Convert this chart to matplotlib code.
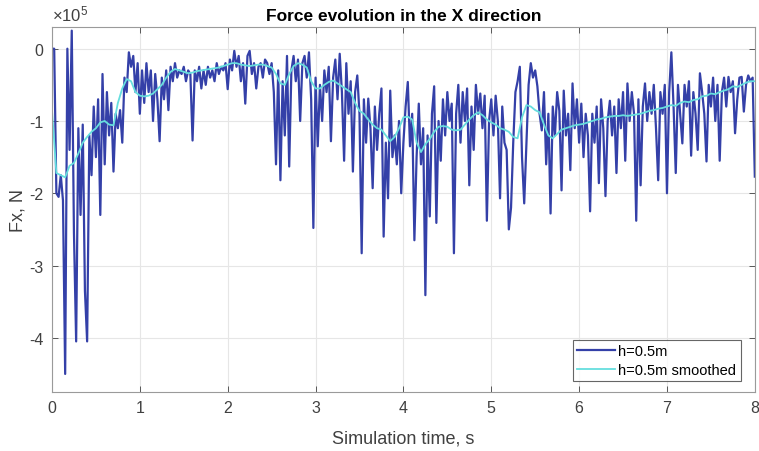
import matplotlib
matplotlib.use("Agg")
import matplotlib.pyplot as plt
import numpy as np

plt.rcParams['font.family'] = ['Liberation Sans', 'DejaVu Sans']
plt.rcParams['axes.unicode_minus'] = False
plt.rcParams['mathtext.fontset'] = 'custom'
plt.rcParams['mathtext.rm'] = 'Liberation Sans'
plt.rcParams['mathtext.it'] = 'Liberation Sans'

# raw force, units of 1e5 N, one sample every 0.025 s (rows = half seconds)
fx_raw = [
    0.0, 0.0, -2.0, -2.05, -1.75, -2.1, -4.5, 0.0, -1.4, 0.25,
    -2.55, -4.05, -1.1, -2.3, -1.05, -3.35, -4.05, -1.2, -1.75, -0.8,
    -1.5, -0.7, -2.3, -0.35, -1.6, -0.6, -1.2, -0.75, -1.7, -0.9,
    -1.1, -0.85, -1.3, -0.4, -0.6, -0.05, -0.25, -0.1, -0.6, -0.2,
    -0.9, -0.3, -0.75, -0.2, -0.6, -0.3, -1.0, -0.35, -0.7, -1.28,
    -0.4, -0.7, -0.3, -0.85, -0.25, -0.45, -0.2, -0.4, -0.3, -0.35,
    -0.25, -0.45, -0.3, -0.35, -1.27, -0.3, -0.45, -0.25, -0.55, -0.3,
    -0.5, -0.25, -0.4, -0.3, -0.45, -0.2, -0.35, -0.25, -0.3, -0.2,
    -0.56, -0.15, -0.3, -0.03, -0.25, -0.1, -0.45, -0.2, -0.76, -0.1,
    -0.03, -0.35, -0.2, -0.55, -0.25, -0.2, -0.4, -0.15, -0.2, -0.35,
    -0.2, -0.6, -1.6, -0.3, -1.82, -0.45, -1.2, -0.1, -1.63, -0.3,
    -0.1, -0.45, -0.15, -1.0, -0.2, -0.1, -0.4, -0.05, -0.7, -2.48,
    -0.4, -1.35, -0.5, -1.0, -0.3, -0.6, -0.25, -1.28, -0.4, -0.15,
    -0.7, -0.07, -0.6, -1.55, -0.2, -0.9, -0.45, -1.7, -0.6, -0.37,
    -0.9, -2.83, -0.7, -1.3, -0.69, -1.1, -1.93, -0.8, -1.4, -0.9,
    -0.55, -2.6, -1.3, -2.07, -0.58, -1.5, -1.2, -1.6, -1.0, -2.0,
    -1.3, -0.8, -0.46, -1.35, -0.9, -2.65, -1.5, -0.76, -1.6, -1.1,
    -3.41, -1.2, -2.32, -0.9, -0.52, -2.41, -1.0, -1.55, -0.7, -1.2,
    -0.6, -1.0, -0.76, -2.83, -0.9, -0.5, -1.3, -0.6, -1.0, -0.55,
    -1.89, -0.8, -1.4, -0.5, -0.9, -0.62, -1.1, -0.65, -2.38, -1.0,
    -0.7, -1.2, -0.65, -1.0, -2.07, -0.8, -1.3, -1.4, -2.5, -2.2,
    -1.3, -0.6, -0.45, -0.25, -1.5, -2.14, -1.3, -0.5, -0.2, -0.4,
    -0.3, -0.52, -0.9, -1.13, -0.6, -1.6, -0.9, -2.28, -0.8, -1.2,
    -0.6, -0.86, -1.96, -0.58, -1.2, -0.9, -1.68, -0.48, -1.1, -0.7,
    -1.3, -0.76, -1.5, -0.9, -1.2, -2.25, -0.9, -1.3, -0.8, -1.86,
    -0.7, -1.1, -2.04, -1.0, -0.72, -1.2, -0.8, -1.72, -0.7, -1.1,
    -0.6, -1.55, -0.48, -1.0, -0.6, -0.9, -2.38, -0.7, -1.89, -0.8,
    -0.48, -1.0, -0.6, -0.9, -0.5, -1.1, -1.82, -0.6, -0.9, -0.5,
    -2.0, -0.6, -0.05, -0.8, -1.72, -0.5, -0.9, -1.31, -0.5, -0.8,
    -0.45, -1.48, -0.6, -0.9, -1.4, -0.34, -0.6, -0.9, -1.56, -0.5,
    -0.8, -0.4, -1.0, -0.5, -1.55, -0.6, -0.4, -0.8, -0.39, -0.6,
    -0.45, -1.17, -0.7, -0.4, -0.39, -0.87, -0.5, -0.37, -0.45, -0.4,
    -1.77,
]

# smoothed force, one sample every 0.05 s
fx_smooth = [
    -0.85, -1.72, -1.75, -1.78, -1.62, -1.58, -1.45, -1.30, -1.22, -1.15,
    -1.10, -1.02, -1.00, -1.05, -1.06, -0.75, -0.55, -0.42, -0.45, -0.60,
    -0.65, -0.66, -0.65, -0.62, -0.56, -0.50, -0.40, -0.32, -0.28, -0.30,
    -0.32, -0.34, -0.33, -0.31, -0.30, -0.29, -0.28, -0.27, -0.26, -0.24,
    -0.22, -0.20, -0.20, -0.22, -0.23, -0.24, -0.23, -0.22, -0.22, -0.24,
    -0.26, -0.35, -0.48, -0.50, -0.35, -0.24, -0.20, -0.22, -0.26, -0.45,
    -0.55, -0.55, -0.50, -0.46, -0.44, -0.48, -0.52, -0.56, -0.60, -0.75,
    -0.86, -0.90, -0.98, -1.05, -1.10, -1.12, -1.20, -1.28, -1.22, -1.10,
    -0.95, -0.94, -0.98, -1.30, -1.43, -1.32, -1.25, -1.15, -1.08, -1.07,
    -1.08, -1.12, -1.13, -1.12, -1.05, -0.98, -0.92, -0.88, -0.92, -0.98,
    -1.02, -1.05, -1.10, -1.12, -1.15, -1.22, -1.24, -0.95, -0.78, -0.80,
    -0.85, -0.88, -1.05, -1.20, -1.24, -1.18, -1.12, -1.10, -1.08, -1.06,
    -1.05, -1.04, -1.02, -1.00, -0.98, -0.97, -0.95, -0.94, -0.93, -0.93,
    -0.92, -0.93, -0.92, -0.91, -0.90, -0.88, -0.86, -0.85, -0.83, -0.82,
    -0.80, -0.78, -0.79, -0.75, -0.73, -0.74, -0.71, -0.70, -0.66, -0.65,
    -0.62, -0.63, -0.60, -0.58, -0.56, -0.52, -0.53, -0.50, -0.47, -0.45,
    -0.45,
]

yticks = [-4, -3, -2, -1, 0]
xticks = [0, 1, 2, 3, 4, 5, 6, 7, 8]

t_raw = np.linspace(0, 8, len(fx_raw))
t_smooth = np.linspace(0, 8, len(fx_smooth))

fig = plt.figure(figsize=(7.59, 4.52), dpi=100)
ax = fig.add_axes([0.0685, 0.1305, 0.926, 0.8075])

ax.plot(t_raw, fx_raw, color='#3440a8', lw=1.6, label='h=0.5m')
ax.plot(t_smooth, fx_smooth, color='#66dede', lw=1.3, label='h=0.5m smoothed')

ax.set_xlim(0, 8)
ax.set_ylim(-4.75, 0.3)
ax.set_xticks(xticks)
ax.set_yticks(yticks)
ax.set_yticklabels([str(v) for v in yticks])

# exponent label above the y axis, matlab style
ax.text(0.0, 1.01, r'$\times10^5$', transform=ax.transAxes, fontsize=12,
        color='#404040', ha='left', va='bottom')

ax.grid(True, color='#e6e6e6', lw=0.8)
ax.set_axisbelow(True)
ax.tick_params(direction='in', top=True, right=True, labelsize=11.5,
               colors='#404040', length=4, width=0.6, pad=6)
for s in ax.spines.values():
    s.set_color('#9a9a9a')
    s.set_linewidth(0.8)

ax.set_title('Force evolution in the X direction', fontsize=12.5, fontweight='bold', pad=5)
ax.set_xlabel('Simulation time, s', fontsize=13, color='#404040', labelpad=10)
ax.set_ylabel('Fx, N', fontsize=13, color='#404040', labelpad=2)

leg = ax.legend(loc='lower right', fontsize=10.5, frameon=True, fancybox=False,
                borderpad=0.3, labelspacing=0.3, handlelength=2.6, handletextpad=0.2,
                bbox_to_anchor=(0.99, 0.01))
leg.get_frame().set_edgecolor('#404040')
leg.get_frame().set_linewidth(0.8)

fig.savefig('out.png', dpi=100)
